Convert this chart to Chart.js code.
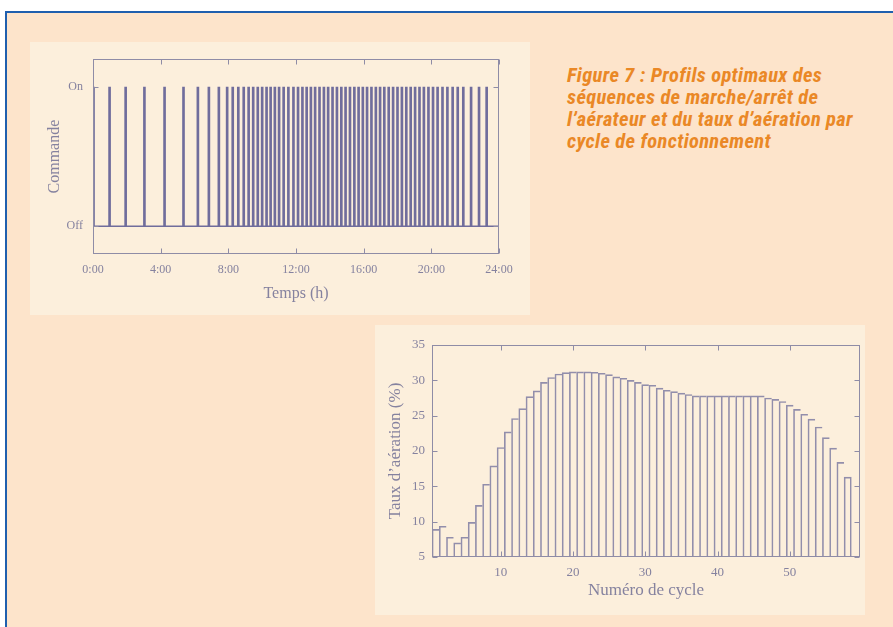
<!DOCTYPE html>
<html lang="fr">
<head>
<meta charset="utf-8">
<title>Figure 7 : Profils optimaux</title>
<script src="https://cdn.jsdelivr.net/npm/chart.js@4.4.1/dist/chart.umd.min.js"></script>
<style>
  html, body { margin: 0; padding: 0; background: #fff; }
  body { width: 893px; height: 627px; position: relative; overflow: hidden; }
  .frame {
    position: absolute; left: 5px; top: 11px; width: 900px; height: 630px;
    background: #fde4cb; border-top: 2px solid #1f5fae; border-left: 2px solid #1f5fae;
  }
  .panel { position: absolute; background: #fcefdc; }
  #panelTop { left: 30px; top: 42px; width: 500px; height: 273px; }
  #panelBottom { left: 375px; top: 325px; width: 490px; height: 290px; }
  .caption {
    position: absolute; left: 567px; top: 64px;
    font-family: "Liberation Sans Narrow", "Roboto Condensed", "Liberation Sans", sans-serif;
    font-style: italic; font-weight: bold; font-size: 20.5px; line-height: 22px;
    letter-spacing: 0.35px; color: #ea8826; white-space: nowrap;
  }
</style>
</head>
<body>
<div class="frame"></div>
<div class="panel" id="panelTop"><canvas id="commandChart"></canvas></div>
<div class="panel" id="panelBottom"><canvas id="aerationChart"></canvas></div>
<div class="caption">
  Figure 7 : Profils optimaux des<br>
  séquences de marche/arrêt de<br>
  l’aérateur et du taux d’aération par<br>
  cycle de fonctionnement
</div>
<script>
// --- Commande marche/arrêt (heures de mise en marche) ---
const commandTimes = [
  0.03, 0.98, 1.93, 3.04, 4.23, 5.35, 6.2, 6.85, 7.44, 7.93,
  8.26, 8.59, 8.91, 9.2, 9.47, 9.74, 10.0, 10.26, 10.5, 10.75,
  11.0, 11.27, 11.55, 11.85, 12.12, 12.38, 12.63, 12.88, 13.13, 13.39,
  13.65, 13.9, 14.16, 14.42, 14.68, 14.93, 15.19, 15.45, 15.7, 15.95,
  16.2, 16.46, 16.72, 16.97, 17.22, 17.48, 17.74, 18.0, 18.26, 18.52,
  18.78, 19.04, 19.3, 19.56, 19.83, 20.1, 20.37, 20.66, 20.95, 21.26,
  21.56, 21.89, 22.35, 22.82, 23.27
];
const offLevel = 0;
const onLevel = 1;
const timeTicks = [0, 4, 8, 12, 16, 20, 24];
const timeTickLabels = ['0:00', '4:00', '8:00', '12:00', '16:00', '20:00', '24:00'];
const commandTicks = [0, 1];
const commandTickLabels = ['Off', 'On'];

// --- Taux d'aération par cycle ---
const cycleNumbers = [
  1, 2, 3, 4, 5, 6, 7, 8, 9, 10, 11, 12, 13, 14, 15, 16, 17, 18, 19, 20,
  21, 22, 23, 24, 25, 26, 27, 28, 29, 30, 31, 32, 33, 34, 35, 36, 37, 38, 39, 40,
  41, 42, 43, 44, 45, 46, 47, 48, 49, 50, 51, 52, 53, 54, 55, 56, 57, 58
];
const aerationRates = [
  8.9, 9.35, 7.8, 7.0, 7.8, 9.9, 12.3, 15.3, 17.9, 20.5,
  22.7, 24.6, 26.0, 27.7, 28.5, 29.7, 30.4, 30.9, 31.1, 31.2,
  31.2, 31.2, 31.15, 31.0, 30.8, 30.5, 30.3, 30.0, 29.7, 29.4,
  29.3, 28.9, 28.6, 28.4, 28.2, 28.0, 27.8, 27.8, 27.8, 27.8,
  27.8, 27.8, 27.8, 27.8, 27.8, 27.8, 27.5, 27.3, 27.0, 26.5,
  25.9, 25.2, 24.5, 23.4, 21.9, 20.4, 18.4, 16.3
];
const cycleTicks = [10, 20, 30, 40, 50];
const rateTicks = [5, 10, 15, 20, 25, 30, 35];

const textColor = '#85829f';
const frameColor = '#8f8ca6';

Chart.defaults.font.family = '"Liberation Serif", "Times New Roman", serif';
Chart.defaults.color = textColor;
Chart.defaults.animation = false;

// cadre fermé avec graduations vers l'intérieur (style gnuplot)
const gnuplotFrame = {
  id: 'gnuplotFrame',
  afterDatasetsDraw(chart, args, opts) {
    const { ctx, chartArea: a, scales: { x, y } } = chart;
    const len = opts.tickLength || 5;
    const L = Math.round(a.left) + 0.5, R = Math.round(a.right) - 0.5;
    const T = Math.round(a.top) + 0.5, B = Math.round(a.bottom) - 0.5;
    ctx.save();
    ctx.strokeStyle = frameColor;
    ctx.lineWidth = 1;
    ctx.strokeRect(L, T, R - L, B - T);
    ctx.beginPath();
    x.ticks.forEach(t => {
      const px = Math.round(x.getPixelForValue(t.value)) + 0.5;
      ctx.moveTo(px, B); ctx.lineTo(px, B - len);
      ctx.moveTo(px, T); ctx.lineTo(px, T + len);
    });
    y.ticks.forEach(t => {
      const py = Math.round(y.getPixelForValue(t.value)) + 0.5;
      ctx.moveTo(L, py); ctx.lineTo(L + len, py);
      ctx.moveTo(R, py); ctx.lineTo(R - len, py);
    });
    ctx.stroke();
    ctx.restore();
  }
};

new Chart(document.getElementById('commandChart'), {
  type: 'bar',
  data: {
    datasets: [
      {
        type: 'bar',
        data: commandTimes.map(t => ({ x: t, y: [offLevel, onLevel] })),
        backgroundColor: '#706d9c',
        barThickness: 2,
        grouped: false
      },
      {
        type: 'line',
        data: [
          { x: timeTicks[0], y: offLevel },
          { x: timeTicks[timeTicks.length - 1], y: offLevel }
        ],
        borderColor: '#706d9c',
        borderWidth: 1.5,
        pointRadius: 0
      }
    ]
  },
  options: {
    responsive: true,
    maintainAspectRatio: false,
    layout: { padding: { left: 0, right: 31, top: 12, bottom: 0 } },
    plugins: {
      legend: { display: false },
      tooltip: { enabled: false },
      gnuplotFrame: { tickLength: 5 }
    },
    scales: {
      x: {
        type: 'linear',
        min: 0,
        max: 24,
        offset: false,
        grid: { display: false, drawTicks: false },
        border: { display: false },
        afterBuildTicks: s => { s.ticks = timeTicks.map(v => ({ value: v })); },
        afterFit: s => { s.height = 61; },
        ticks: {
          autoSkip: false,
          maxRotation: 0,
          padding: 9,
          font: { size: 12 },
          callback: (v, i) => timeTickLabels[i]
        },
        title: {
          display: true,
          text: 'Temps (h)',
          font: { size: 16 },
          padding: { top: 0, bottom: 12 }
        }
      },
      y: {
        min: -0.2,
        max: 1.2,
        grid: { display: false, drawTicks: false },
        border: { display: false },
        afterBuildTicks: s => { s.ticks = commandTicks.map(v => ({ value: v })); },
        afterFit: s => { s.width = 63; },
        ticks: {
          padding: 10,
          font: { size: 12 },
          callback: (v, i) => commandTickLabels[i]
        },
        title: {
          display: true,
          text: 'Commande',
          font: { size: 16 },
          padding: { top: 15, bottom: 0 }
        }
      }
    }
  },
  plugins: [gnuplotFrame]
});

new Chart(document.getElementById('aerationChart'), {
  type: 'bar',
  data: {
    datasets: [{
      data: cycleNumbers.map((c, i) => ({ x: c, y: aerationRates[i] })),
      backgroundColor: 'rgba(0,0,0,0)',
      borderColor: '#928eab',
      borderWidth: ctx => ({
        top: 1,
        left: 1,
        right: ctx.dataIndex === aerationRates.length - 1 ? 1 : 0,
        bottom: 0
      }),
      barPercentage: 1,
      categoryPercentage: 1
    }]
  },
  options: {
    responsive: true,
    maintainAspectRatio: false,
    layout: { padding: { left: 0, right: 5, top: 20, bottom: 0 } },
    plugins: {
      legend: { display: false },
      tooltip: { enabled: false },
      gnuplotFrame: { tickLength: 5 }
    },
    scales: {
      x: {
        type: 'linear',
        min: 0.5,
        max: 59.7,
        offset: false,
        grid: { display: false, drawTicks: false },
        border: { display: false },
        afterBuildTicks: s => { s.ticks = cycleTicks.map(v => ({ value: v })); },
        afterFit: s => { s.height = 58; },
        ticks: { autoSkip: false, maxRotation: 0, padding: 8, font: { size: 13 } },
        title: {
          display: true,
          text: 'Numéro de cycle',
          font: { size: 17 },
          padding: { top: 0, bottom: 14 }
        }
      },
      y: {
        min: 5,
        max: 35,
        grid: { display: false, drawTicks: false },
        border: { display: false },
        afterBuildTicks: s => { s.ticks = rateTicks.map(v => ({ value: v })); },
        afterFit: s => { s.width = 57; },
        ticks: { padding: 7, font: { size: 13 } },
        title: {
          display: true,
          text: 'Taux d’aération (%)',
          font: { size: 17 },
          padding: { top: 10, bottom: 0 }
        }
      }
    }
  },
  plugins: [gnuplotFrame]
});
</script>
</body>
</html>
